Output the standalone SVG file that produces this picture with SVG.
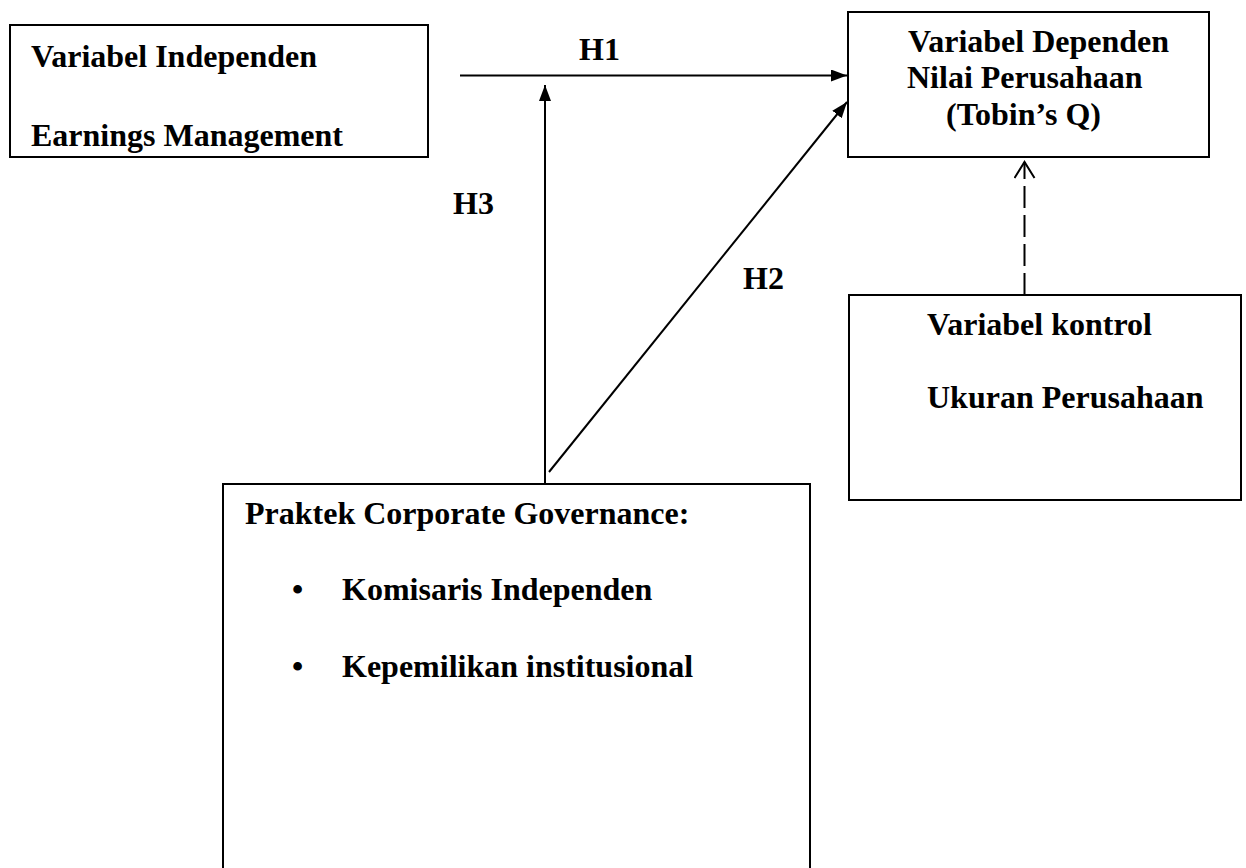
<svg xmlns="http://www.w3.org/2000/svg" width="1246" height="868" viewBox="0 0 1246 868">
<style>
.box{fill:#fff;stroke:#000;stroke-width:2}
.t{font-family:"Liberation Serif","Times New Roman",serif;font-weight:bold;font-size:32px;fill:#000}
.ln{stroke:#000;stroke-width:2;fill:none}
.dash{stroke-dasharray:22 7}
</style>
<defs>
<marker id="ah" markerUnits="userSpaceOnUse" markerWidth="18" markerHeight="14" refX="16" refY="6" orient="auto">
<path d="M0,0 L16,6 L0,12 z" fill="#000"/>
</marker>
<marker id="ahOpen" markerUnits="userSpaceOnUse" markerWidth="20" markerHeight="24" refX="17" refY="11" orient="auto">
<path d="M1,1 L17,11 L1,21" fill="none" stroke="#000" stroke-width="2"/>
</marker>
</defs>
<rect width="1246" height="868" fill="#fff"/>
<g id="connectors">
<line class="ln" x1="460" y1="75.5" x2="847" y2="75.5" marker-end="url(#ah)"/>
<line class="ln" x1="545" y1="484" x2="545" y2="85" marker-end="url(#ah)"/>
<line class="ln" x1="549" y1="472" x2="847" y2="102" marker-end="url(#ah)"/>
<line class="ln dash" x1="1024.5" y1="295" x2="1024.5" y2="162" marker-end="url(#ahOpen)"/>
<text class="t" x="579" y="60">H1</text>
<text class="t" x="453" y="214">H3</text>
<text class="t" x="743" y="289">H2</text>
</g>
<g id="independen">
<rect class="box" x="10" y="25" width="418" height="132"/>
<text class="t" x="31" y="66.5">Variabel Independen</text>
<text class="t" x="31" y="146">Earnings Management</text>
</g>
<g id="dependen">
<rect class="box" x="848" y="12" width="361" height="145"/>
<text class="t" x="908" y="51.5">Variabel Dependen</text>
<text class="t" x="907" y="88">Nilai Perusahaan</text>
<text class="t" x="946" y="124.5">(Tobin’s Q)</text>
</g>
<g id="kontrol">
<rect class="box" x="849" y="295" width="392" height="205"/>
<text class="t" x="927" y="335">Variabel kontrol</text>
<text class="t" x="927" y="408">Ukuran Perusahaan</text>
</g>
<g id="governance">
<rect class="box" x="223" y="484" width="587" height="400"/>
<text class="t" x="245" y="524">Praktek Corporate Governance:</text>
<text class="t" x="292" y="600">•</text>
<text class="t" x="342" y="600">Komisaris Independen</text>
<text class="t" x="292" y="676.5">•</text>
<text class="t" x="342" y="676.5">Kepemilikan institusional</text>
</g>
</svg>
